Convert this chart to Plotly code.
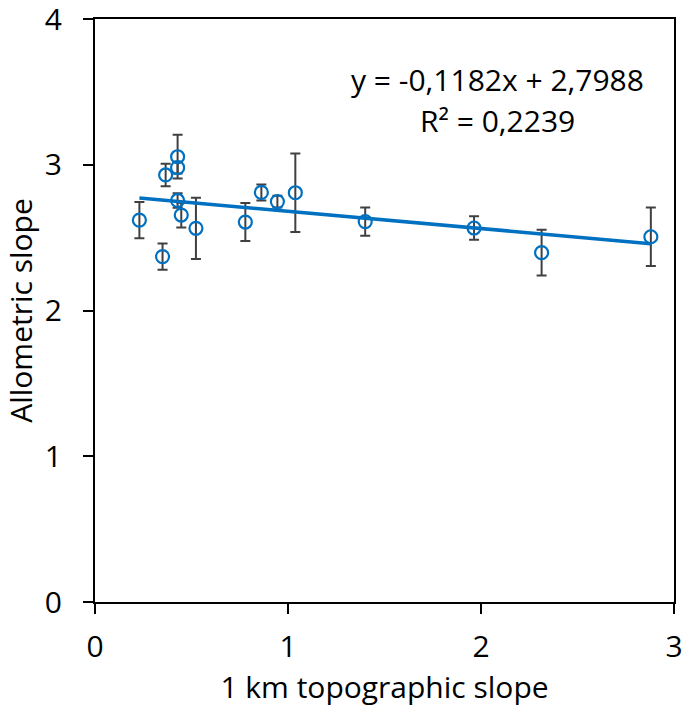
import plotly.graph_objects as go

# Data
topo_slope = [0.23, 0.35, 0.366, 0.428, 0.428, 0.428, 0.447, 0.523, 0.779, 0.862, 0.945, 1.038, 1.40, 1.964, 2.314, 2.88]
allometric_slope = [2.62, 2.37, 2.93, 3.055, 2.98, 2.755, 2.655, 2.564, 2.607, 2.81, 2.747, 2.808, 2.61, 2.566, 2.397, 2.506]
error = [0.125, 0.09, 0.077, 0.15, 0.04, 0.05, 0.085, 0.21, 0.13, 0.055, 0.04, 0.27, 0.097, 0.08, 0.157, 0.2]

trend_slope = -0.1182
trend_intercept = 2.7988
eq_text = "y = -0,1182x + 2,7988"
r2_text = "R² = 0,2239"

x_ticks = [0, 1, 2, 3]
y_ticks = [0, 1, 2, 3, 4]

FONT = "Open Sans"
BLUE = "#0070C0"
FS = 30

fig = go.Figure()
fig.add_trace(go.Scatter(
    x=topo_slope, y=allometric_slope, mode="markers",
    marker=dict(symbol="circle-open", size=13, color=BLUE, line=dict(width=2.2, color=BLUE)),
    error_y=dict(type="data", array=error, visible=True, color="#404040", thickness=2, width=5),
    showlegend=False, hoverinfo="x+y",
))
xmin, xmax = min(topo_slope), max(topo_slope)
fig.add_trace(go.Scatter(
    x=[xmin, xmax],
    y=[trend_slope * xmin + trend_intercept, trend_slope * xmax + trend_intercept],
    mode="lines", line=dict(color=BLUE, width=3.5), showlegend=False, hoverinfo="skip",
))

fig.add_annotation(x=0.695, y=0.897, xref="paper", yref="paper", xanchor="center", yanchor="middle",
                   text=eq_text, showarrow=False, font=dict(family=FONT, size=FS, color="black"))
fig.add_annotation(x=0.695, y=0.826, xref="paper", yref="paper", xanchor="center", yanchor="middle",
                   text=r2_text, showarrow=False, font=dict(family=FONT, size=FS, color="black"))

axis_common = dict(
    showgrid=False, zeroline=False, showline=True, linecolor="black", linewidth=2,
    mirror=True, ticks="outside", ticklen=10, tickwidth=1.5, tickcolor="black",
    tickfont=dict(family=FONT, size=FS, color="black"), automargin=False,
    ticklabeloverflow="allow",
)
fig.update_xaxes(range=[0, 3], tickvals=x_ticks, ticklabelstandoff=7,
                 title=dict(text="1 km topographic slope", font=dict(family=FONT, size=FS, color="black"), standoff=5),
                 **axis_common)
fig.update_yaxes(range=[0, 4], tickvals=y_ticks, ticklabelstandoff=15,
                 title=dict(text="Allometric slope", font=dict(family=FONT, size=FS, color="black"), standoff=5),
                 **axis_common)

fig.update_layout(
    width=682, height=712,
    margin=dict(l=95, r=8, t=19, b=110, autoexpand=False),
    plot_bgcolor="white", paper_bgcolor="white",
    font=dict(family=FONT, color="black"),
)

fig.write_html(
    "out.html",
    config={"displayModeBar": False},
    post_script="document.body.style.margin='0';document.body.style.overflow='hidden';",
)
